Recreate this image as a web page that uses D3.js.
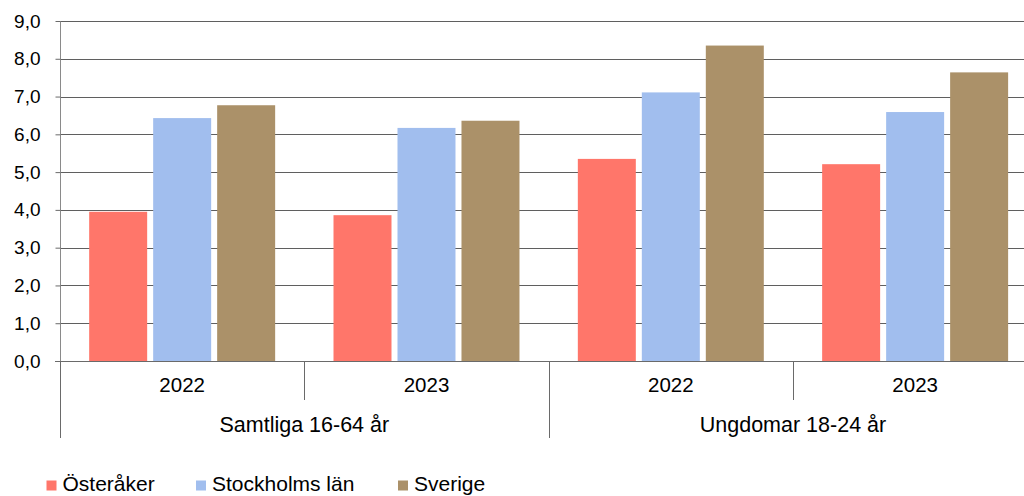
<!DOCTYPE html>
<html>
<head>
<meta charset="utf-8">
<script src="https://cdn.jsdelivr.net/npm/d3@7"></script>
<style>
  html, body { margin: 0; padding: 0; background: #fff; }
  svg { display: block; font-family: "Liberation Sans", Arial, sans-serif; }
</style>
</head>
<body>
<svg id="chart" width="1024" height="496"></svg>
<script>
const groups = ["Samtliga 16-64 år", "Ungdomar 18-24 år"];
const years = ["2022", "2023"];
const seriesNames = ["Österåker", "Stockholms län", "Sverige"];
const seriesColors = ["#FF766A", "#A1BEEE", "#AB9169"];
// values per series, ordered: [Samtliga 2022, Samtliga 2023, Ungdomar 2022, Ungdomar 2023]
const osteraker = [3.95, 3.86, 5.35, 5.21];
const stockholm = [6.43, 6.17, 7.11, 6.59];
const sverige = [6.77, 6.36, 8.35, 7.64];
const yTicks = [0, 1, 2, 3, 4, 5, 6, 7, 8, 9];

const seriesValues = [osteraker, stockholm, sverige];

const svg = d3.select("#chart");
const plotLeft = 60, plotRight = 1037.3, plotTop = 21, plotBottom = 361;

const y = d3.scaleLinear().domain([0, 9]).range([plotBottom, plotTop]);
const xGroup = d3.scaleBand().domain(groups).range([plotLeft, plotRight]);
const xYear = d3.scaleBand().domain(years).range([0, xGroup.bandwidth()]);
const xSeries = d3.scaleBand().domain(seriesNames).range([0, xYear.bandwidth()])
  .paddingInner(0).paddingOuter(0.409);

// Gridlines
svg.append("g").selectAll("line").data(yTicks.filter(d => d > 0)).join("line")
  .attr("x1", plotLeft).attr("x2", plotRight)
  .attr("y1", d => Math.round(y(d)) + 0.5).attr("y2", d => Math.round(y(d)) + 0.5)
  .attr("stroke", "#5f5f5f").attr("stroke-width", 1);

// Bars
const cats = [];
groups.forEach((g, gi) => years.forEach((yr, yi) => cats.push({ g, yr, idx: gi * 2 + yi })));
const barG = svg.append("g");
seriesNames.forEach((s, si) => {
  barG.selectAll(null).data(cats).join("rect")
    .attr("x", d => xGroup(d.g) + xYear(d.yr) + xSeries(s) + 3)
    .attr("width", xSeries.bandwidth() - 6)
    .attr("y", d => y(seriesValues[si][d.idx]))
    .attr("height", d => y(0) - y(seriesValues[si][d.idx]))
    .attr("fill", seriesColors[si]);
});

// Y axis
const yAxis = d3.axisLeft(y).tickValues(yTicks).tickSize(5).tickPadding(15)
  .tickFormat(d => d3.format(".1f")(d).replace(".", ","));
const yg = svg.append("g").attr("transform", `translate(${plotLeft + 0.5},0)`).call(yAxis);
yg.select(".domain").attr("stroke", "#8a8a8a").attr("d", `M0,${plotTop}V${plotBottom}`);
yg.selectAll(".tick line").attr("stroke", "#6a6a6a");
yg.selectAll(".tick text").attr("font-size", 19).attr("fill", "#000")
  .attr("font-family", "'Liberation Sans', Arial, sans-serif");

// X axis baseline
svg.append("line").attr("x1", plotLeft - 5).attr("x2", plotRight)
  .attr("y1", Math.round(y(0)) + 0.5).attr("y2", Math.round(y(0)) + 0.5)
  .attr("stroke", "#6a6a6a");

// Separators
const yearBounds = groups.map(g => xGroup(g) + xYear.bandwidth());
svg.append("g").selectAll("line").data(yearBounds).join("line")
  .attr("x1", d => Math.round(d) + 0.5).attr("x2", d => Math.round(d) + 0.5)
  .attr("y1", plotBottom).attr("y2", 400).attr("stroke", "#6a6a6a");
const groupBounds = [...groups.map(g => xGroup(g)), plotRight];
svg.append("g").selectAll("line").data(groupBounds).join("line")
  .attr("x1", d => Math.round(d) + 0.5).attr("x2", d => Math.round(d) + 0.5)
  .attr("y1", plotBottom).attr("y2", 438).attr("stroke", "#6a6a6a");

// Year labels
svg.append("g").selectAll("text").data(cats).join("text")
  .attr("x", d => xGroup(d.g) + xYear(d.yr) + xYear.bandwidth() / 2)
  .attr("y", 392).attr("text-anchor", "middle").attr("font-size", 20.5)
  .text(d => d.yr);

// Group labels
svg.append("g").selectAll("text").data(groups).join("text")
  .attr("x", d => xGroup(d) + xGroup.bandwidth() / 2)
  .attr("y", 432).attr("text-anchor", "middle").attr("font-size", 21.5)
  .text(d => d);

// Legend
const legendX = [46.5, 196, 398];
const lg = svg.append("g");
seriesNames.forEach((s, i) => {
  lg.append("rect").attr("x", legendX[i]).attr("y", 480.5).attr("width", 10).attr("height", 10)
    .attr("fill", seriesColors[i]);
  lg.append("text").attr("x", legendX[i] + 16).attr("y", 490.5).attr("font-size", 21).text(s);
});
</script>
</body>
</html>
